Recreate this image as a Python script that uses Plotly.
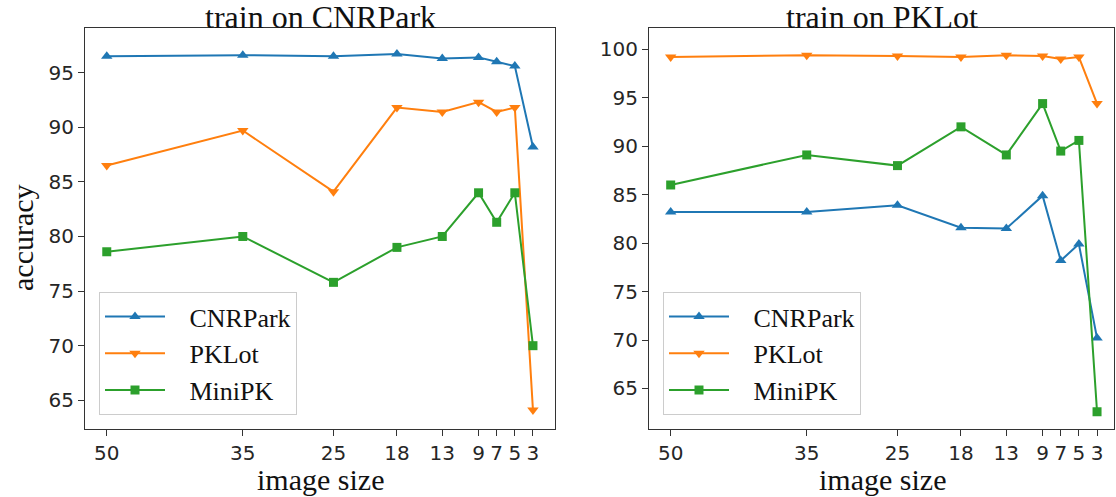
import plotly.graph_objects as go

sizes = [50, 35, 25, 18, 13, 9, 7, 5, 3]
tick_labels = ["50", "35", "25", "18", "13", "9", "7", "5", "3"]

# train on CNRPark
cnr_cnrpark = [96.5, 96.6, 96.5, 96.7, 96.3, 96.4, 96.0, 95.6, 88.2]
cnr_pklot = [86.5, 89.7, 84.1, 91.8, 91.4, 92.3, 91.4, 91.8, 64.1]
cnr_minipk = [78.6, 80.0, 75.8, 79.0, 80.0, 84.0, 81.3, 84.0, 70.0]

# train on PKLot
pk_cnrpark = [83.2, 83.2, 83.9, 81.6, 81.5, 84.9, 78.2, 79.9, 70.2]
pk_pklot = [99.2, 99.4, 99.3, 99.2, 99.4, 99.3, 99.0, 99.2, 94.4]
pk_minipk = [86.0, 89.1, 88.0, 92.0, 89.1, 94.4, 89.5, 90.6, 62.6]

series_names = ["CNRPark", "PKLot", "MiniPK"]
colors = ["#1f77b4", "#ff7f0e", "#2ca02c"]
symbols = ["triangle-up", "triangle-down", "square"]
msizes = [10, 10, 9]

W, H = 1116, 497
fig = go.Figure()

left_data = [cnr_cnrpark, cnr_pklot, cnr_minipk]
right_data = [pk_cnrpark, pk_pklot, pk_minipk]

NB = "\u00a0\u00a0\u00a0"
for i, name in enumerate(series_names):
    fig.add_trace(go.Scatter(
        x=sizes, y=left_data[i], name=NB + name, mode="lines+markers",
        line=dict(color=colors[i], width=2),
        marker=dict(symbol=symbols[i], size=msizes[i], color=colors[i]),
        xaxis="x", yaxis="y", legend="legend", legendgroup="L" + name,
    ))
for i, name in enumerate(series_names):
    fig.add_trace(go.Scatter(
        x=sizes, y=right_data[i], name=NB + name, mode="lines+markers",
        line=dict(color=colors[i], width=2),
        marker=dict(symbol=symbols[i], size=msizes[i], color=colors[i]),
        xaxis="x2", yaxis="y2", legend="legend2", legendgroup="R" + name,
    ))

tickfont = dict(family="DejaVu Sans", size=20, color="#262626")
axis_common = dict(
    showgrid=False, zeroline=False, showline=True, mirror=True,
    linecolor="#333333", linewidth=1.2, ticks="outside", ticklen=6,
    tickcolor="#333333", tickfont=tickfont,
)

serif = "Liberation Serif"
legend_common = dict(
    font=dict(family=serif, size=26, color="#111111"),
    bgcolor="rgba(255,255,255,0.85)", bordercolor="#cccccc", borderwidth=1,
    itemwidth=60, traceorder="grouped", tracegroupgap=0,
    entrywidth=229, entrywidthmode="pixels",
    xanchor="left", yanchor="bottom",
)

fig.update_layout(
    width=W, height=H,
    margin=dict(l=0, r=0, t=28, b=68),
    paper_bgcolor="white", plot_bgcolor="white",
    xaxis=dict(domain=[85 / W, 555 / W], range=[52.4, 0.57],
               tickvals=sizes, ticktext=tick_labels, **axis_common),
    yaxis=dict(domain=[0, 1], range=[62.37, 99.09], dtick=5,
               tick0=65, **axis_common),
    xaxis2=dict(domain=[649 / W, 1114 / W], range=[52.39, 1.13],
                tickvals=sizes, ticktext=tick_labels, anchor="y2", **axis_common),
    yaxis2=dict(domain=[0, 1], range=[60.82, 102.2], dtick=5, tick0=65,
                anchor="x2", **axis_common),
    legend=dict(x=99 / W, y=(429 - 415) / 401, **legend_common),
    legend2=dict(x=663 / W, y=(429 - 415) / 401, **legend_common),
    showlegend=True,
)

title_font = dict(family=serif, size=32, color="#111111")
label_font = dict(family=serif, size=30, color="#111111")
ann = [
    dict(text="train on CNRPark", x=(85 + 555) / 2 / W, y=1, xref="paper", yref="paper",
         xanchor="center", yanchor="middle", yshift=11, showarrow=False, font=title_font),
    dict(text="train on PKLot", x=(649 + 1114) / 2 / W, y=1, xref="paper", yref="paper",
         xanchor="center", yanchor="middle", yshift=11, showarrow=False, font=title_font),
    dict(text="image size", x=320 / W, y=0, xref="paper", yref="paper",
         xanchor="center", yanchor="middle", yshift=-50, showarrow=False, font=label_font),
    dict(text="image size", x=882 / W, y=0, xref="paper", yref="paper",
         xanchor="center", yanchor="middle", yshift=-50, showarrow=False, font=label_font),
    dict(text="accuracy", x=22 / W, y=(429 - 238) / 401, xref="paper", yref="paper",
         xanchor="center", yanchor="middle", textangle=-90, showarrow=False, font=label_font),
]
fig.update_layout(annotations=ann)

fig.write_html("out.html", config={"displayModeBar": False},
               post_script="document.body.style.margin='0';document.body.style.overflow='hidden';")
